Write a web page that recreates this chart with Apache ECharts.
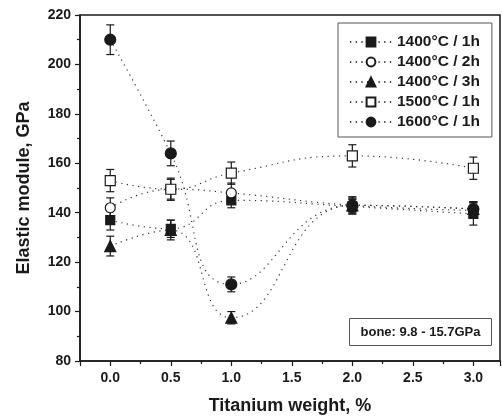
<!DOCTYPE html>
<html lang="en">
<head>
    <meta charset="UTF-8">
    <title>Elastic module vs titanium weight</title>
    <script src="https://cdn.jsdelivr.net/npm/echarts@6/dist/echarts.min.js"></script>
</head>
<body style="margin:0">
<div id="main" style="width: 502px;height: 418px;"></div>

<script type="text/javascript">
    // titanium weight, %
    var xVals = [0, 0.5, 1, 2, 3];

    var names = ['1400°C / 1h', '1400°C / 2h', '1400°C / 3h', '1500°C / 1h', '1600°C / 1h'];

    // elastic module, GPa
    var s1400_1h = [137, 133.5, 145, 142.5, 139.5];
    var s1400_2h = [142, 149.5, 148, 143, 141];
    var s1400_3h = [126.5, 133, 97.5, 143, 141.5];
    var s1500_1h = [153, 149.5, 156, 163, 158];
    var s1600_1h = [210, 164, 111, 143, 141.5];

    // error bars (+/-)
    var e1400_1h = [4, 3.5, 3, 3, 4.5];
    var e1400_2h = [4, 4, 4, 3.5, 3];
    var e1400_3h = [4, 4, 2.5, 3, 3];
    var e1500_1h = [4.5, 4.5, 4.5, 4.5, 4.5];
    var e1600_1h = [6, 5, 3, 2.5, 3];

    var xTicks = [0, 0.5, 1, 1.5, 2, 2.5, 3];

    var FONT = 'Liberation Sans, Arial, sans-serif';
    var DARK = '#1a1a1a';

    var myChart = echarts.init(document.getElementById('main'));

    var values = [s1400_1h, s1400_2h, s1400_3h, s1500_1h, s1600_1h];
    var errors = [e1400_1h, e1400_2h, e1400_3h, e1500_1h, e1600_1h];
    var symbols = [
        {symbol: 'rect', size: 9, fill: DARK},
        {symbol: 'circle', size: 10, fill: '#fff'},
        {symbol: 'triangle', size: 11, fill: DARK},
        {symbol: 'rect', size: 10, fill: '#fff'},
        {symbol: 'circle', size: 11, fill: DARK}
    ];

    function pairs(ys) {
        return xVals.map(function (x, i) { return [x, ys[i]]; });
    }

    function errData(ys, es) {
        return xVals.map(function (x, i) { return [x, ys[i], es[i]]; });
    }

    // vertical error bar with caps
    function renderErr(params, api) {
        var x = api.value(0), y = api.value(1), e = api.value(2);
        var top = api.coord([x, y + e]);
        var bot = api.coord([x, y - e]);
        var w = 4;
        var st = {stroke: DARK, lineWidth: 1.2};
        return {
            type: 'group',
            children: [
                {type: 'line', shape: {x1: top[0], y1: top[1], x2: bot[0], y2: bot[1]}, style: st},
                {type: 'line', shape: {x1: top[0] - w, y1: top[1], x2: top[0] + w, y2: top[1]}, style: st},
                {type: 'line', shape: {x1: bot[0] - w, y1: bot[1], x2: bot[0] + w, y2: bot[1]}, style: st}
            ]
        };
    }

    var series = [];
    values.forEach(function (ys, i) {
        series.push({
            type: 'custom',
            name: 'err' + i,
            renderItem: renderErr,
            encode: {x: 0, y: 1},
            data: errData(ys, errors[i]),
            z: 1,
            silent: true
        });
    });
    values.forEach(function (ys, i) {
        series.push({
            name: names[i],
            type: 'line',
            smooth: 0.5,
            symbol: symbols[i].symbol,
            symbolSize: symbols[i].size,
            data: pairs(ys),
            lineStyle: {color: '#333', width: 1.2, type: [1.2, 4.5]},
            itemStyle: {color: symbols[i].fill, borderColor: DARK, borderWidth: 1.2},
            z: 3
        });
    });

    var option = {
        animation: false,
        backgroundColor: '#fff',
        grid: {
            left: 80, right: 2, top: 15, bottom: 57,
            show: true, borderColor: DARK, borderWidth: 1.5,
            outerBoundsMode: 'none'
        },
        legend: {
            data: names,
            orient: 'vertical',
            left: 338,
            top: 23,
            itemWidth: 42,
            itemHeight: 11,
            itemGap: 4,
            padding: [11, 12, 7, 11],
            borderColor: '#555',
            borderWidth: 1,
            backgroundColor: '#fff',
            textStyle: {fontFamily: FONT, fontWeight: 'bold', fontSize: 15.5, color: DARK}
        },
        xAxis: {
            type: 'value',
            min: -0.25,
            max: 3.22,
            splitNumber: 6,
            name: 'Titanium weight, %',
            nameLocation: 'middle',
            nameGap: 36,
            nameTextStyle: {fontFamily: FONT, fontWeight: 'bold', fontSize: 18, color: DARK},
            axisLine: {onZero: false, lineStyle: {color: DARK, width: 1.5}},
            axisTick: {inside: false, length: 5, lineStyle: {color: DARK, width: 1.2}},
            minorTick: {show: true, splitNumber: 2, length: 3, lineStyle: {color: DARK, width: 1.2}},
            splitLine: {show: false},
            axisLabel: {
                showMinLabel: false,
                showMaxLabel: false,
                margin: 10,
                fontFamily: FONT, fontWeight: 'bold', fontSize: 14, color: DARK,
                formatter: function (v) {
                    return xTicks.indexOf(v) >= 0 ? v.toFixed(1) : '';
                }
            }
        },
        yAxis: {
            type: 'value',
            min: 80,
            max: 220,
            interval: 20,
            name: 'Elastic module, GPa',
            nameLocation: 'middle',
            nameGap: 47,
            nameTextStyle: {fontFamily: FONT, fontWeight: 'bold', fontSize: 18, color: DARK},
            axisLine: {show: true, onZero: false, lineStyle: {color: DARK, width: 1.5}},
            axisTick: {show: true, inside: false, length: 5, lineStyle: {color: DARK, width: 1.2}},
            minorTick: {show: true, splitNumber: 2, length: 3, lineStyle: {color: DARK, width: 1.2}},
            splitLine: {show: false},
            axisLabel: {margin: 9, fontFamily: FONT, fontWeight: 'bold', fontSize: 14, color: DARK}
        },
        graphic: [{
            type: 'group',
            left: 349,
            top: 318,
            children: [
                {type: 'rect', shape: {x: 0, y: 0, width: 142, height: 27},
                    style: {fill: '#fff', stroke: '#555', lineWidth: 1}},
                {type: 'text', x: 71, y: 14,
                    style: {text: 'bone: 9.8 - 15.7GPa', fill: DARK, align: 'center', verticalAlign: 'middle',
                        font: 'bold 13px ' + FONT}}
            ]
        }],
        series: series
    };

    myChart.setOption(option);
</script>
</body>
</html>
